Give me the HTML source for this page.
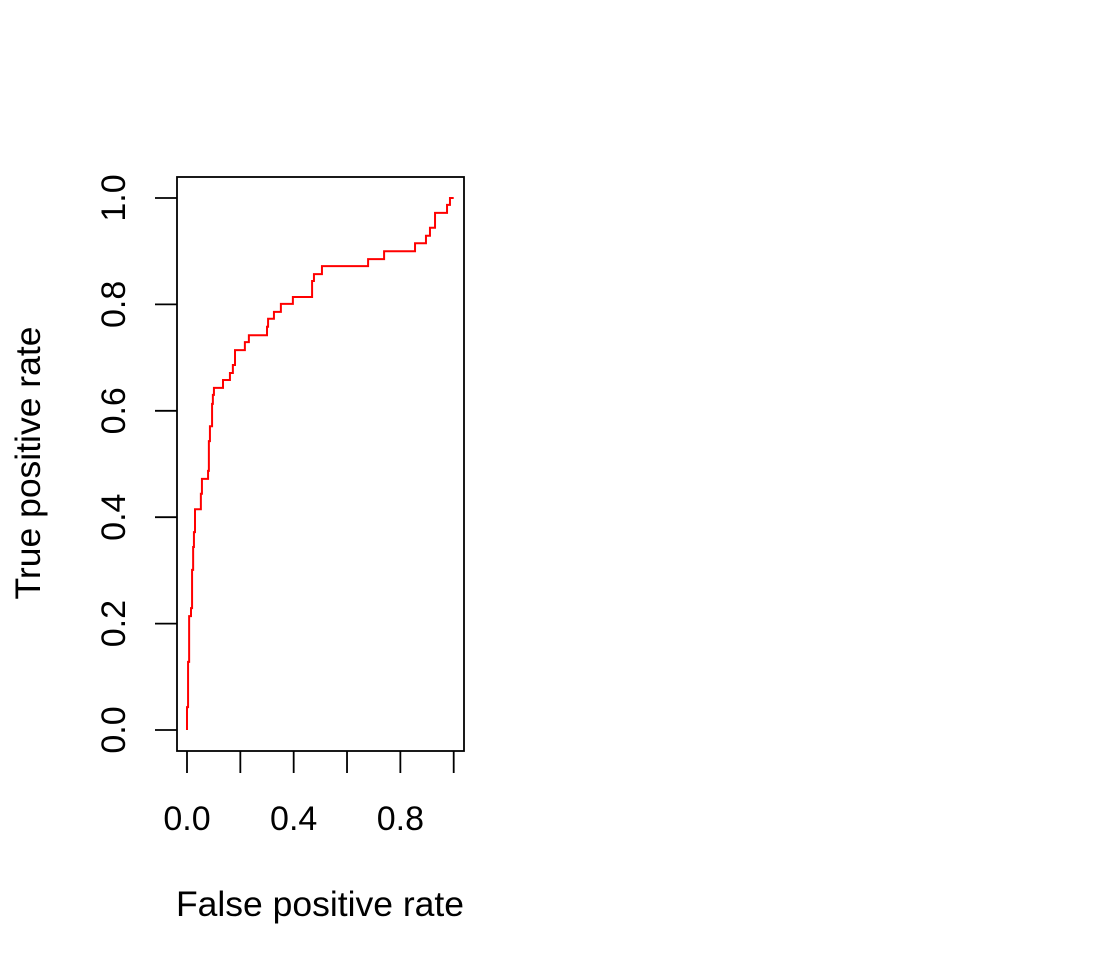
<!DOCTYPE html>
<html><head><meta charset="utf-8"><style>
body{margin:0;background:#fff}
text{font-family:"Liberation Sans",Arial,sans-serif;fill:#000}
</style></head><body>
<svg id="chart" width="1111" height="972" viewBox="0 0 1111 972">
<rect x="177" y="177" width="287" height="574" fill="none" stroke="#000" stroke-width="1.8"/>
<g id="xaxis"></g>
<g id="yaxis"></g>
<path id="roc" fill="none" stroke="#ff0000" stroke-width="2"/>
<text x="320" y="916" font-size="35.5" text-anchor="middle">False positive rate</text>
<text transform="translate(40,463) rotate(-90)" font-size="35.5" text-anchor="middle">True positive rate</text>
</svg>
<script>
const fpr = [0,0,0.004,0.008,0.015,0.019,0.023,0.026,0.03,0.052,0.056,0.079,0.082,0.086,0.094,0.097,0.101,0.135,0.161,0.172,0.18,0.217,0.232,0.3,0.304,0.326,0.352,0.397,0.469,0.476,0.506,0.679,0.739,0.855,0.896,0.911,0.93,0.975,0.986,1.0];
const tpr = [0,0.043,0.128,0.214,0.229,0.301,0.344,0.372,0.415,0.444,0.472,0.487,0.543,0.571,0.613,0.630,0.643,0.658,0.671,0.686,0.714,0.729,0.742,0.758,0.773,0.786,0.801,0.814,0.844,0.857,0.872,0.885,0.900,0.915,0.929,0.944,0.972,0.987,1.0,1.0];
const xTicks = [0,0.2,0.4,0.6,0.8,1.0];
const xTickLabels = ["0.0","","0.4","","0.8",""];
const yTicks = [0,0.2,0.4,0.6,0.8,1.0];
const yTickLabels = ["0.0","0.2","0.4","0.6","0.8","1.0"];
const NS="http://www.w3.org/2000/svg";
const X = v => 187 + v*266.7;
const Y = v => 730 - v*532;
let d = "M"+X(fpr[0])+","+Y(tpr[0]);
for(let i=1;i<fpr.length;i++){ d += " H"+X(fpr[i])+" V"+Y(tpr[i]); }
document.getElementById('roc').setAttribute('d', d);
const xa=document.getElementById('xaxis');
const ya=document.getElementById('yaxis');
xTicks.forEach((t,i)=>{
  const l=document.createElementNS(NS,'line');
  l.setAttribute('x1',X(t));l.setAttribute('x2',X(t));l.setAttribute('y1',751);l.setAttribute('y2',773);
  l.setAttribute('stroke','#000');l.setAttribute('stroke-width','1.8');
  
  
  xa.appendChild(l);
  if(xTickLabels[i]){
    const tx=document.createElementNS(NS,'text');
    tx.setAttribute('x',X(t));tx.setAttribute('y',830);tx.setAttribute('font-size','34');tx.setAttribute('text-anchor','middle');
    tx.textContent=xTickLabels[i];
    
    
    xa.appendChild(tx);
  }
});
yTicks.forEach((t,i)=>{
  const l=document.createElementNS(NS,'line');
  l.setAttribute('x1',155);l.setAttribute('x2',177);l.setAttribute('y1',Y(t));l.setAttribute('y2',Y(t));
  l.setAttribute('stroke','#000');l.setAttribute('stroke-width','1.8');
  
  
  ya.appendChild(l);
  const tx=document.createElementNS(NS,'text');
  tx.setAttribute('transform','translate(125,'+Y(t)+') rotate(-90)');
  tx.setAttribute('font-size','34');tx.setAttribute('text-anchor','middle');
  tx.textContent=yTickLabels[i];
  
  
  ya.appendChild(tx);
});
</script>
</body></html>
